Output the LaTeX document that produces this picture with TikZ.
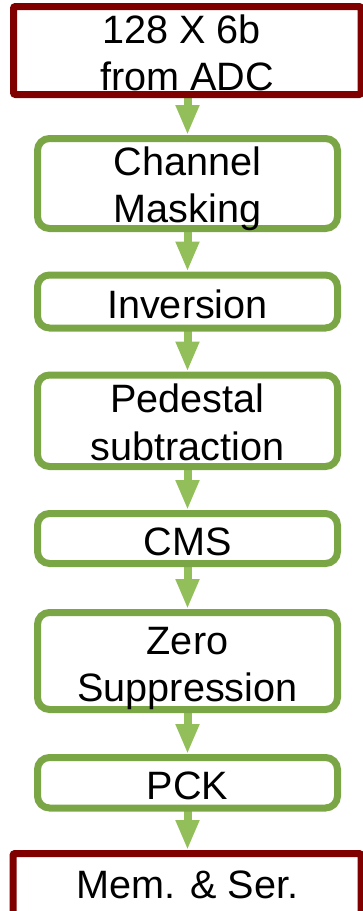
\documentclass[tikz,border=0pt]{standalone}
\usepackage{fontspec}
\setmainfont{Liberation Sans}
\usetikzlibrary{arrows.meta,backgrounds}
\definecolor{ioRed}{HTML}{800000}
\definecolor{stageGreen}{HTML}{7BA646}
\definecolor{flowGreen}{HTML}{93BF5B}
\tikzset{
  ionode/.style={draw=ioRed, fill=white, line width=7pt, rectangle, rounded corners=2pt, inner sep=0pt},
  stagenode/.style={draw=stageGreen, fill=white, line width=7pt, rectangle, rounded corners=12pt, inner sep=0pt, minimum width=300pt},
  lbl/.style={anchor=base, inner sep=0pt, font=\fontsize{39.6pt}{47pt}\selectfont},
  flow/.style={draw=flowGreen, line width=8pt, -{Triangle[width=22pt,length=30pt]}, shorten <=-3pt}
}
\begin{document}
\begin{tikzpicture}[x=1pt,y=-1pt]
\useasboundingbox (0,0) rectangle (363,911);
\clip (0,0) rectangle (363,911);

% processing chain boxes
\node[ionode, minimum width=347.5pt, minimum height=88pt] (adc) at (187.25,50.5) {};
\node[stagenode, minimum height=90pt]   (mask) at (187.5,183.5) {};
\node[stagenode, minimum height=53pt]   (inv)  at (187.5,301.5) {};
\node[stagenode, minimum height=91.5pt] (ped)  at (187.5,420.75) {};
\node[stagenode, minimum height=50pt]   (cms)  at (187.5,538.5) {};
\node[stagenode, minimum height=97pt]   (zs)   at (187.5,661) {};
\node[stagenode, minimum height=50.5pt] (pck)  at (187.5,782.75) {};
\node[ionode, minimum width=348pt, minimum height=76.5pt] (mem) at (187,891.75) {};

% labels
\node[lbl] (adc-a) at (181.5,43.3) {128 X 6b};
\node[lbl] (adc-b) at (187,90) {from ADC};
\node[lbl] (mask-a) at (187.5,175.7) {Channel};
\node[lbl] (mask-b) at (187.5,222.7) {Masking};
\node[lbl] (inv-a) at (187.5,318.3) {Inversion};
\node[lbl] (ped-a) at (187.5,412.7) {Pedestal};
\node[lbl] (ped-b) at (187.5,460) {subtraction};
\node[lbl] (cms-a) at (187.5,555) {CMS};
\node[lbl] (zs-a) at (187.5,654.3) {Zero};
\node[lbl] (zs-b) at (187.5,701.7) {Suppression};
\node[lbl] (pck-a) at (187.5,799) {PCK};
\node[lbl] (mem-a) at (187.5,898) {Mem. \& Ser.};

% data flow arrows, drawn beneath the boxes
\begin{scope}[on background layer]
\draw[flow] (adc.south -| mask.center) -- (mask.north);
\draw[flow] (mask.south) -- (inv.north);
\draw[flow] (inv.south) -- (ped.north);
\draw[flow] (ped.south) -- (cms.north);
\draw[flow] (cms.south) -- (zs.north);
\draw[flow] (zs.south) -- (pck.north);
\draw[flow] (pck.south) -- (mem.north -| pck.center);
\end{scope}
\end{tikzpicture}
\end{document}
